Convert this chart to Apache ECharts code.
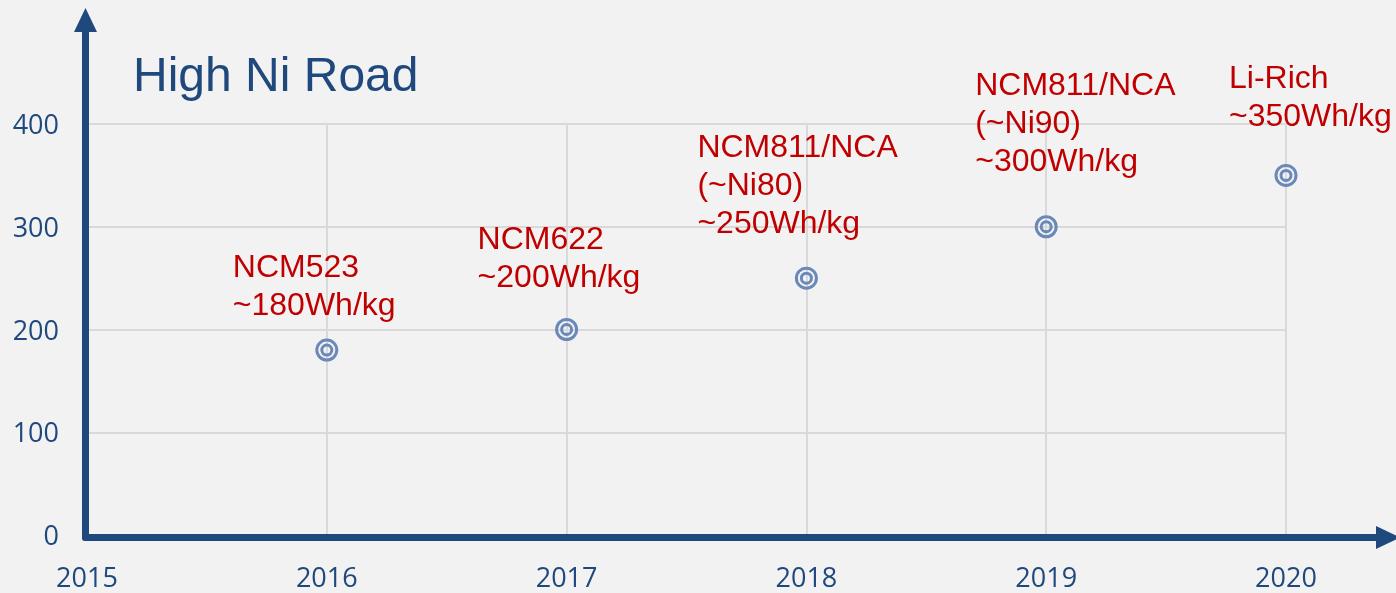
<!DOCTYPE html>
<html>
<head>
<meta charset="utf-8">
<script src="https://cdn.jsdelivr.net/npm/echarts@6/dist/echarts.min.js"></script>
<style>
html,body{margin:0;padding:0;background:#F2F2F2;}
#chart{width:1396px;height:593px;}
</style>
</head>
<body>
<div id="chart"></div>
<script>
// ---- data ----
const titleText = 'High Ni Road';
const years = [2016, 2017, 2018, 2019, 2020];
const energy = [180, 200, 250, 300, 350];
const labels = [
  'NCM523\n~180Wh/kg',
  'NCM622\n~200Wh/kg',
  'NCM811/NCA\n(~Ni80)\n~250Wh/kg',
  'NCM811/NCA\n(~Ni90)\n~300Wh/kg',
  'Li-Rich\n~350Wh/kg'
];
const xTicks = [2015, 2016, 2017, 2018, 2019, 2020];
const yTicks = [0, 100, 200, 300, 400];

// ---- layout (label offsets relative to each point, px) ----
const labelOffsets = [[-94, -101], [-89, -108.5], [-109, -148.5], [-71, -159.5], [-57, -115.5]];

const axisColor = '#1F497D';
const markColor = '#6A88B8';
const red = '#C00000';

const points = years.map((y, i) => [y, energy[i]]);
const labeled = points.map((p, i) => ({
  value: p,
  label: { offset: labelOffsets[i], formatter: labels[i] }
}));

const chart = echarts.init(document.getElementById('chart'), null, { renderer: 'canvas' });
chart.setOption({
  backgroundColor: '#F2F2F2',
  animation: false,
  title: {
    text: titleText,
    left: 133, top: 54, padding: 0,
    textStyle: { color: axisColor, fontFamily: 'Liberation Sans', fontSize: 48, fontWeight: 'normal', lineHeight: 48 }
  },
  grid: [
    { left: 87, right: 110, top: 124, bottom: 53 },
    { left: 85.5, right: 8, top: 20, bottom: 55.5 }
  ],
  xAxis: [
    {
      gridIndex: 0, type: 'value', min: xTicks[0], max: xTicks[xTicks.length - 1], interval: 1,
      axisLine: { show: false }, axisTick: { show: false },
      splitLine: { show: true, lineStyle: { color: '#D9D9D9', width: 2 } },
      axisLabel: { color: axisColor, fontFamily: 'Open Sans', fontSize: 27, margin: 31, showMinLabel: true, showMaxLabel: true,
        formatter: v => String(v) }
    },
    {
      gridIndex: 1, type: 'value', min: 0, max: 1,
      axisLine: { show: true, onZero: false, symbol: ['none', 'triangle'], symbolSize: [23, 24], lineStyle: { color: axisColor, width: 7 } },
      axisTick: { show: false }, axisLabel: { show: false }, splitLine: { show: false }
    }
  ],
  yAxis: [
    {
      gridIndex: 0, type: 'value', min: yTicks[0], max: yTicks[yTicks.length - 1], interval: 100,
      axisLine: { show: false }, axisTick: { show: false },
      splitLine: { show: true, lineStyle: { color: '#D9D9D9', width: 2 } },
      axisLabel: {
        margin: 28,
        formatter: v => '{t|' + v + '}',
        rich: { t: { color: axisColor, fontFamily: 'Open Sans', fontSize: 27, padding: [5, 0, 0, 0] } }
      }
    },
    {
      gridIndex: 1, type: 'value', min: 0, max: 1,
      axisLine: { show: true, onZero: false, symbol: ['none', 'triangle'], symbolSize: [23, 24], lineStyle: { color: axisColor, width: 7 } },
      axisTick: { show: false }, axisLabel: { show: false }, splitLine: { show: false }
    }
  ],
  series: [
    {
      type: 'scatter', xAxisIndex: 0, yAxisIndex: 0,
      symbol: 'circle', symbolSize: 20,
      itemStyle: { color: 'rgba(0,0,0,0)', borderColor: markColor, borderWidth: 3, opacity: 1 },
      label: {
        show: true, position: 'inside', align: 'left', verticalAlign: 'top',
        color: red, fontFamily: 'Liberation Sans', fontSize: 32, lineHeight: 38
      },
      data: labeled,
      z: 5
    },
    {
      type: 'scatter', xAxisIndex: 0, yAxisIndex: 0,
      symbol: 'circle', symbolSize: 10,
      itemStyle: { color: 'rgba(0,0,0,0)', borderColor: markColor, borderWidth: 3, opacity: 1 },
      data: points,
      z: 5
    }
  ]
});
</script>
</body>
</html>
